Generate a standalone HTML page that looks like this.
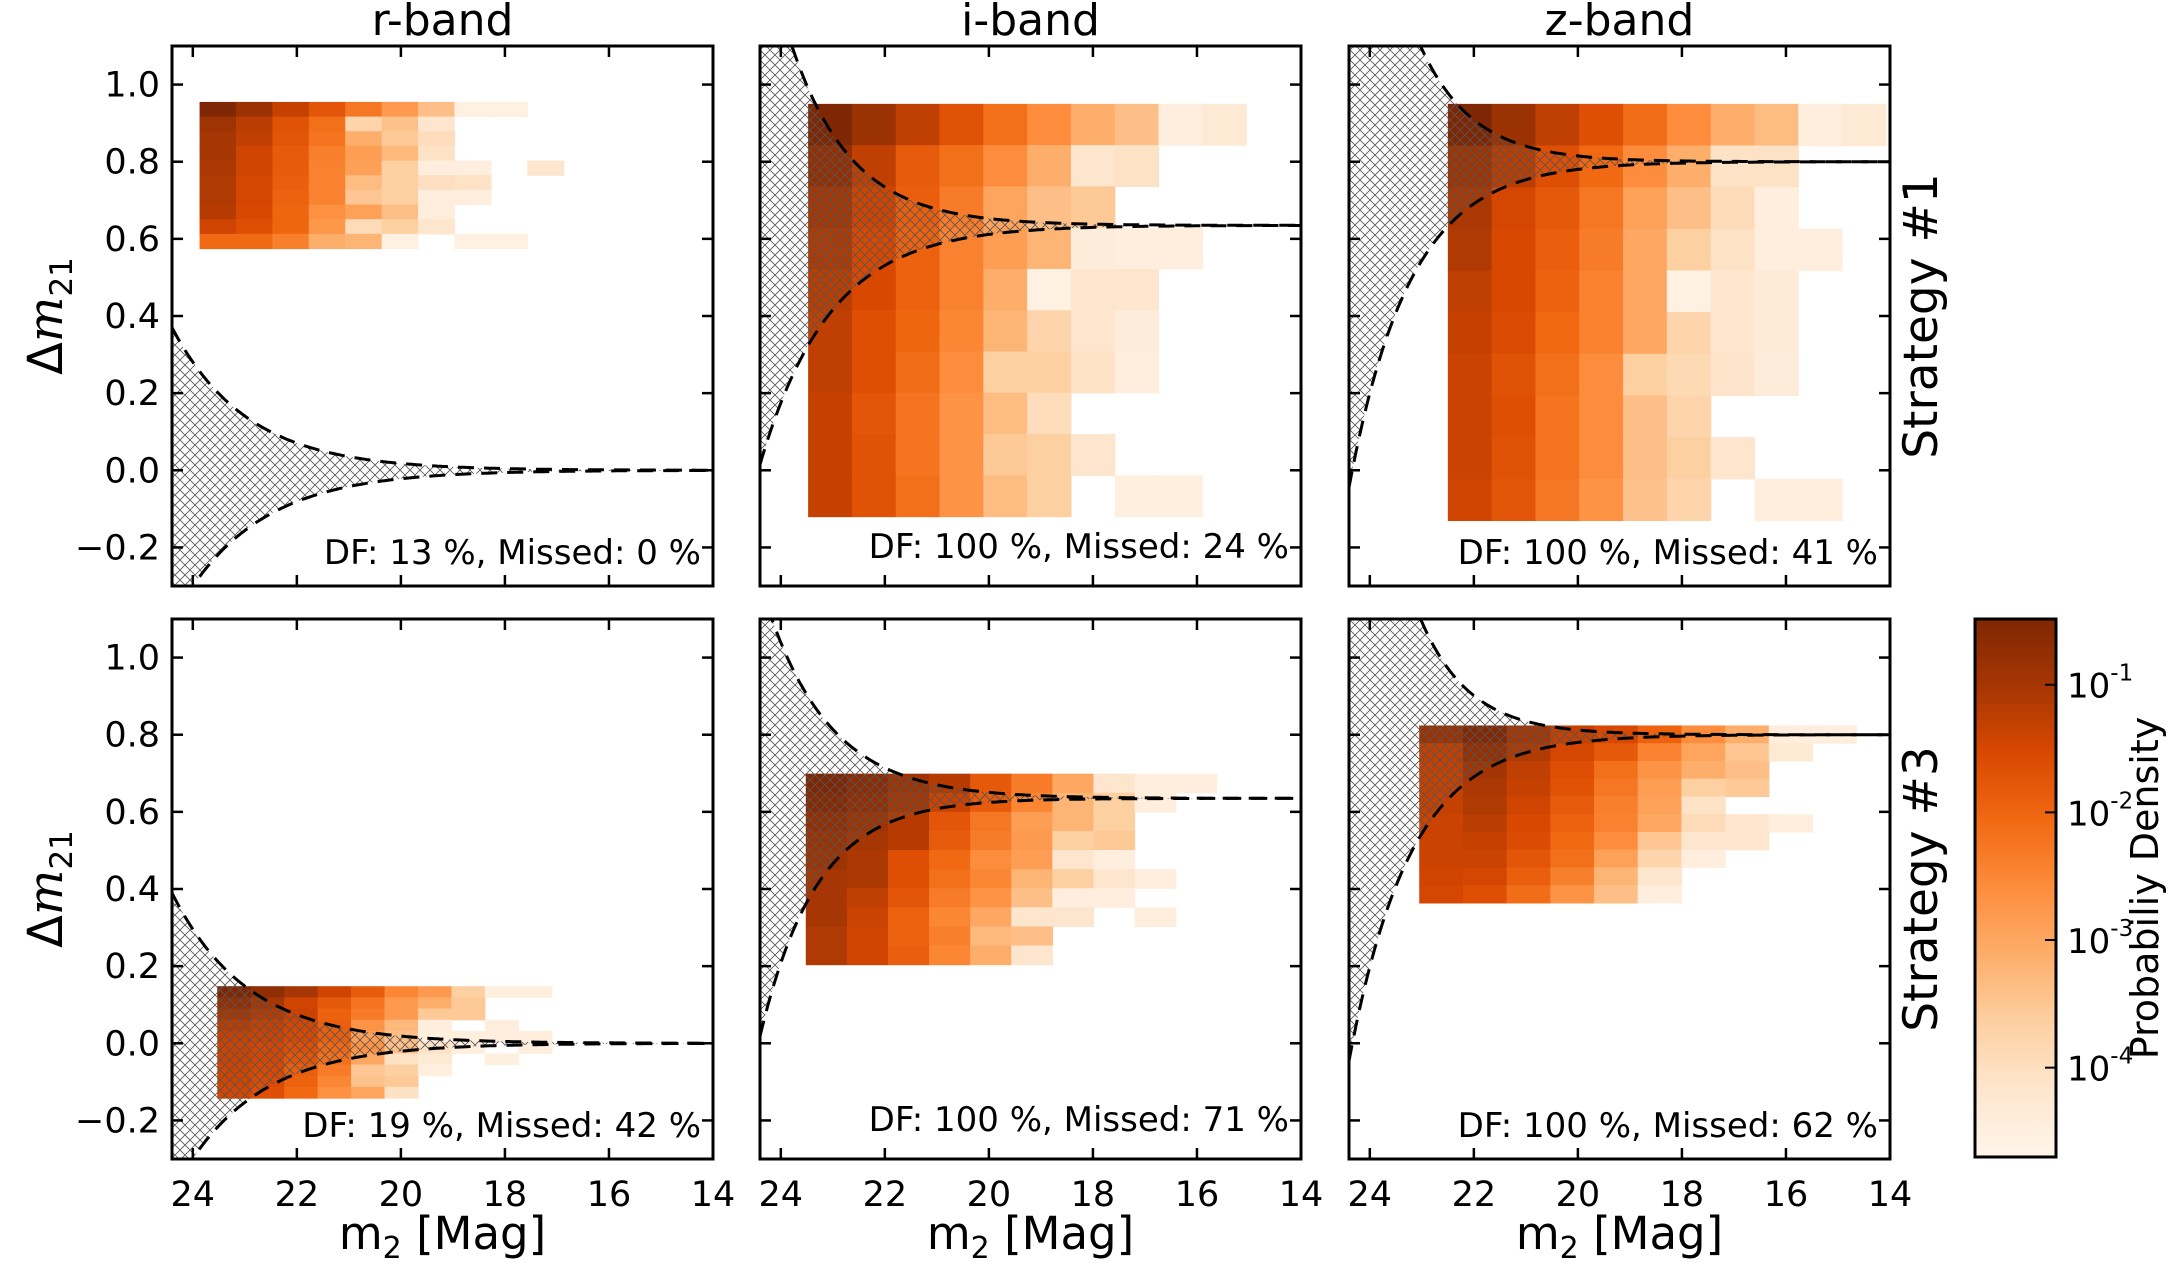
<!DOCTYPE html>
<html><head><meta charset="utf-8">
<style>
html,body{margin:0;padding:0;background:#fff;}
svg{display:block;font-family:"DejaVu Sans","Liberation Sans",sans-serif;}
</style></head>
<body>
<svg id="fig" width="2170" height="1263" viewBox="0 0 2170 1263" xmlns="http://www.w3.org/2000/svg">
<defs>
<pattern id="hatch" patternUnits="userSpaceOnUse" width="10" height="10">
<path d="M0,0 L10,10 M10,0 L0,10" stroke="#555" stroke-width="0.8" fill="none"/>
</pattern>
<linearGradient id="cbgrad" x1="0" y1="1" x2="0" y2="0">
<stop offset="0" stop-color="#fff5eb"/><stop offset="0.125" stop-color="#fee6ce"/>
<stop offset="0.25" stop-color="#fdd0a2"/><stop offset="0.375" stop-color="#fdae6b"/>
<stop offset="0.5" stop-color="#fd8d3c"/><stop offset="0.625" stop-color="#f16913"/>
<stop offset="0.75" stop-color="#d94801"/><stop offset="0.875" stop-color="#a63603"/>
<stop offset="1" stop-color="#7f2704"/>
</linearGradient>
</defs>
</svg>
<script>
// ---- data ----
const bandTitles = ["r-band","i-band","z-band"];
const strategyLabels = ["Strategy #1","Strategy #3"];
const xTicks = [24,22,20,18,16,14];
const yTicks = [-0.2,0,0.2,0.4,0.6,0.8,1.0];
const cbTicks = [-1,-2,-3,-4];
const dfTexts = ["DF: 13 %, Missed: 0 %","DF: 100 %, Missed: 24 %","DF: 100 %, Missed: 41 %",
                 "DF: 19 %, Missed: 42 %","DF: 100 %, Missed: 71 %","DF: 100 %, Missed: 62 %"];
// bin definitions (data units): first left edge magnitude, bin width, top edge, bin height
const binX0 = [23.87,23.475,22.50,23.53,23.52,23.05];
const binDX = [0.70,0.842,0.842,0.643,0.79,0.84];
const binY0 = [0.955,0.95,0.95,0.148,0.699,0.824];
const binDY = [0.038,0.107,0.108,0.029,0.0495,0.046];
// colour levels (0..8 on the Oranges scale), null = empty
const _ = null;
const levels1 = [
[8,7.3,6.4,5.6,4.6,3.6,2.5,0.3,0.3,_],[7.2,6.6,5.7,4.8,1.8,2.4,1,_,_,_],[7,6.5,5.6,4.7,3,2.2,1.4,_,_,_],
[7,6.2,5.4,4.4,3.5,2.7,1.2,_,_,_],[6.9,6.2,5.4,4.3,3.4,2,0.5,0.5,_,1],[6.8,6.1,5.3,4.3,2.6,2,1.3,1.2,_,_],
[6.8,6.1,5.2,4.3,2.3,2,0.5,0.5,_,_],[6.7,6,5.1,3.9,3.4,2.5,0.5,_,_,_],[6.2,5.8,5.1,3.7,1.5,2,1,_,_,_],
[5,5,4.4,3,2.8,0.3,_,0.3,0.3,_]];
const levels2 = [
[8,7.3,6.5,5.7,4.8,4,3,2.5,0.5,0.8],[7.5,6.5,5.4,4.8,4,3,1,1.2,_,_],[7,6.2,5.3,4.5,3.3,2.5,2.2,_,_,_],
[6.8,6,5.2,4.3,3.5,2.8,0.6,0.5,0.5,_],[6.6,6,5.2,4.3,3,0.3,1,1,_,_],[6.5,5.8,5.1,4.2,2.8,1.8,1,0.6,_,_],
[6.5,5.8,4.9,4,2,2,1.2,0.5,_,_],[6.4,5.6,4.7,3.8,2.6,1.4,_,_,_,_],[6.4,5.7,4.7,3.8,2.2,2,1,_,_,_],
[6.4,5.7,4.8,3.8,2.6,2.0,_,0.4,0.4,_]];
const levels3 = [
[8,7.3,6.5,5.8,4.9,4,3,2.6,0.5,0.8],[7.2,6.6,5.8,5,4,3,1.2,1.2,_,_],[6.9,6.1,5.5,4.6,3.4,2.5,1.5,0.5,_,_],
[6.8,6,5.3,4.5,3.2,2,1.2,0.5,0.5,_],[6.5,6,5.2,4.3,3.2,0.3,1,0.7,_,_],[6.4,5.9,5,4.3,3.2,1.8,1,0.7,_,_],
[6.3,5.7,4.8,4,2,1.6,1.1,0.6,_,_],[6.3,5.8,4.7,4,2.5,1.8,_,_,_,_],[6.3,5.7,4.7,4,2.5,2,1,_,_,_],
[6.2,5.6,4.6,3.8,2.4,1.8,_,0.5,0.5,_]];
const levels4 = [
[8,7.6,7,6.2,5.4,4.2,3.6,2,0.4,0.4],[7.5,7,6.2,5.5,4.7,3.6,3,2.2,_,_],[7,6.7,6.3,5.2,4.5,3.6,2.2,2.2,_,_],
[6.6,6.4,6.1,5.3,3.8,2.7,0.5,_,0.5,_],[6.4,6.3,6,5.3,3.5,2.5,0.4,0.5,0.5,0.5],[6.3,6.1,5.8,5,3.8,2.5,1.2,0.4,_,0.5],
[6.3,6.1,5.6,4.8,3.2,1.2,0.8,_,0.4,_],[6.2,6,5.3,4.5,2.3,2,0.4,_,_,_],[6.2,5.9,5.2,4.2,2.4,2.2,_,_,_,_],
[6.1,5.8,5,3.9,3.3,1.2,_,_,_,_]];
const levels5 = [
[8,7.7,7.2,6.7,5.5,4.5,3.2,1,0.5,0.5],[7.8,7.5,7,6.3,5.4,4.2,2.8,2,0.5,_],[7.5,7.2,6.7,5.6,4.6,3.5,2.8,2,_,_],
[7.3,7,6.7,5.4,4.5,3.6,2,2.2,_,_],[7.2,6.9,5.8,5,4,3.5,1,0.5,_,_],[7,6.9,5.8,4.8,4.2,2.8,2,1,0.5,_],
[7,6.5,5.6,4.5,3.8,2.5,0.5,0.5,_,_],[7,6.3,5.2,4.2,3.2,1,1,_,0.5,_],[6.8,6.2,5.2,4.4,2.7,2.5,_,_,_,_],
[6.8,6.2,5.3,4.2,3,1,_,_,_,_]];
const levels6 = [
[7.3,7.9,7,6.4,6,5.2,4,3,0.5,0.5],[6.5,7.4,6.8,6.1,5.5,4.3,3.3,2.3,0.8,_],[6.4,7.1,6.5,5.8,4.8,3.8,3,2.5,_,_],
[6.4,6.9,6.4,5.7,4.6,3.5,2,2.2,_,_],[6.4,6.8,6.2,5.4,4.4,3.4,1.2,_,_,_],[6.3,6.6,6.0,5.2,4.3,3.2,1.5,1.0,0.5,_],
[6.3,6.4,5.9,5,4.0,2.3,1.0,1.0,_,_],[6.3,6.3,5.6,4.8,3.4,1.8,0.5,_,_,_],[6.2,6.1,5.3,4.4,2.8,1,_,_,_,_],
[6.1,5.8,4.9,3.8,2.5,0.5,_,_,_,_]];
const allLevels = [levels1,levels2,levels3,levels4,levels5,levels6];
// error envelope parameters: centre, upper amplitude/slope, lower amplitude/slope
const envCentre = [0,0.635,0.80,0,0.635,0.80];
const envAu = [0.37,0.79,1.17,0.39,0.56,1.29];
const envKu = [0.30,0.375,0.43,0.30,0.354,0.46];
const envAl = [0.39,0.62,0.844,0.39,0.617,0.846];
const envKl = [0.284,0.323,0.37,0.29,0.40,0.37];

// ---- layout ----
const NS="http://www.w3.org/2000/svg";
const svg=document.getElementById('fig');
const PW=541, PH=540;
const lefts=[172,760,1349], tops=[46,619];
const XMAX=24.4, XMIN=14, YMIN=-0.3, YMAX=1.1;
function xs(m,l){return l+(XMAX-m)/(XMAX-XMIN)*PW;}
function ys(v,t){return t+(YMAX-v)/(YMAX-YMIN)*PH;}
const stops=["#fff5eb","#fee6ce","#fdd0a2","#fdae6b","#fd8d3c","#f16913","#d94801","#a63603","#7f2704"];
function hex(h){return [1,3,5].map(i=>parseInt(h.substr(i,2),16));}
function cmap(t){t=Math.max(0,Math.min(1,t));const f=t*8;const i=Math.min(7,Math.floor(f));const r=f-i;
 const a=hex(stops[i]),b=hex(stops[i+1]);return 'rgb('+a.map((v,k)=>Math.round(v+(b[k]-v)*r)).join(',')+')';}
function el(tag,attrs,parent){const e=document.createElementNS(NS,tag);for(const k in attrs)e.setAttribute(k,attrs[k]);(parent||svg).appendChild(e);return e;}
function fmt(v){return (v<0?'\u2212':'')+Math.abs(v).toFixed(1);}

for(let p=0;p<6;p++){
 const col=p%3,row=Math.floor(p/3);const L=lefts[col],T=tops[row];
 const g=el('g',{});
 
 
 const cp=el('clipPath',{id:'clip'+p},g);el('rect',{x:L,y:T,width:PW,height:PH},cp);
 const inner=el('g',{'clip-path':'url(#clip'+p+')'},g);
 const lv=allLevels[p];
 for(let r=0;r<lv.length;r++)for(let c=0;c<lv[r].length;c++){
  const v=lv[r][c];if(v===null)continue;
  const m0=binX0[p]-c*binDX[p],m1=m0-binDX[p];
  const y0=binY0[p]-r*binDY[p],y1=y0-binDY[p];
  const x=xs(m0,L),y=ys(y0,T);
  const rc=el('rect',{x:x.toFixed(2),y:y.toFixed(2),width:(xs(m1,L)-x+0.6).toFixed(2),height:(ys(y1,T)-y+0.6).toFixed(2),fill:cmap(v/8)},inner);
  
  
 }
 const up=[],lo=[];
 for(let m=XMAX;m>=XMIN-0.01;m-=0.05){
  up.push([xs(m,L),ys(envCentre[p]+envAu[p]*Math.pow(10,envKu[p]*(m-XMAX)),T)]);
  lo.push([xs(m,L),ys(envCentre[p]-envAl[p]*Math.pow(10,envKl[p]*(m-XMAX)),T)]);
 }
 const pts=up.concat(lo.slice().reverse()).map(q=>q[0].toFixed(1)+','+q[1].toFixed(1)).join(' ');
 const poly=el('polygon',{points:pts,fill:'url(#hatch)',stroke:'none'},inner);
 
 
 [up,lo].forEach((arr,i)=>{
  const pl=el('polyline',{points:arr.map(q=>q[0].toFixed(1)+','+q[1].toFixed(1)).join(' '),fill:'none',stroke:'#000','stroke-width':3,'stroke-dasharray':'16,10'},inner);
  
  
 });
 const fr=el('rect',{x:L,y:T,width:PW,height:PH,fill:'none',stroke:'#000','stroke-width':3},g);
 
 
 xTicks.forEach(t=>{const x=xs(t,L);
  el('line',{x1:x,y1:T+PH,x2:x,y2:T+PH-11,stroke:'#000','stroke-width':2.5},g);
  el('line',{x1:x,y1:T,x2:x,y2:T+11,stroke:'#000','stroke-width':2.5},g);
  if(row===1){const tx=el('text',{x:x,y:T+PH+47,'font-size':35,'text-anchor':'middle',fill:'#000'},g);tx.textContent=t;
   
   }
 });
 yTicks.forEach(t=>{const y=ys(t,T);
  el('line',{x1:L,y1:y,x2:L+11,y2:y,stroke:'#000','stroke-width':2.5},g);
  el('line',{x1:L+PW,y1:y,x2:L+PW-11,y2:y,stroke:'#000','stroke-width':2.5},g);
  if(col===0){const tx=el('text',{x:L-12,y:y+12,'font-size':35,'text-anchor':'end',fill:'#000'},g);tx.textContent=fmt(t);
   
   }
 });
 const df=el('text',{x:L+PW-12,y:T+PH-(p===1||p===4?28:22),'font-size':34,'text-anchor':'end',fill:'#000'},g);
 df.textContent=dfTexts[p];
 
 
 if(row===0){const tt=el('text',{x:L+PW/2,y:35,'font-size':44,'text-anchor':'middle',fill:'#000'},g);tt.textContent=bandTitles[col];
  
  }
 if(row===1){const xl=el('text',{x:L+PW/2,y:1249,'font-size':45,'text-anchor':'middle',fill:'#000'},g);
  xl.innerHTML='m<tspan font-size="30" dy="9">2</tspan><tspan dy="-9"> [Mag]</tspan>';
  
  }
 if(col===0){const cy=T+PH/2;const yl=el('text',{transform:'translate(62,'+cy+') rotate(-90)','font-size':48,'text-anchor':'middle',fill:'#000'},g);
  yl.innerHTML='Δ<tspan font-style="italic" font-family="DejaVu Serif, Liberation Serif, serif">m</tspan><tspan font-size="31" dy="10">21</tspan>';
  
  }
 if(col===2){const cy=T+PH/2;const sl=el('text',{transform:'translate(1937,'+cy+') rotate(-90)','font-size':47,'text-anchor':'middle',fill:'#000'},g);
  sl.textContent=strategyLabels[row];
  
  }
}
const CBX=1975,CBY=619,CBW=81,CBH=538,LTOP=-0.485,LBOT=-4.70;
const cb=el('g',{});


el('rect',{x:CBX,y:CBY,width:CBW,height:CBH,fill:'url(#cbgrad)',stroke:'#000','stroke-width':3},cb);
cbTicks.forEach(t=>{const y=CBY+(LTOP-t)/(LTOP-LBOT)*CBH;
 el('line',{x1:CBX+CBW,y1:y,x2:CBX+CBW-11,y2:y,stroke:'#000','stroke-width':2},cb);
 const tx=el('text',{x:CBX+CBW+11,y:y+13,'font-size':34,fill:'#000'},cb);
 tx.innerHTML='10<tspan font-size="23" dy="-17">'+t+'</tspan>';
 
 
});
const cbl=el('text',{transform:'translate(2158,'+(CBY+CBH/2)+') rotate(-90)','font-size':38,'text-anchor':'middle',fill:'#000'},cb);
cbl.textContent='Probabiliy Density';


</script>
</body></html>
